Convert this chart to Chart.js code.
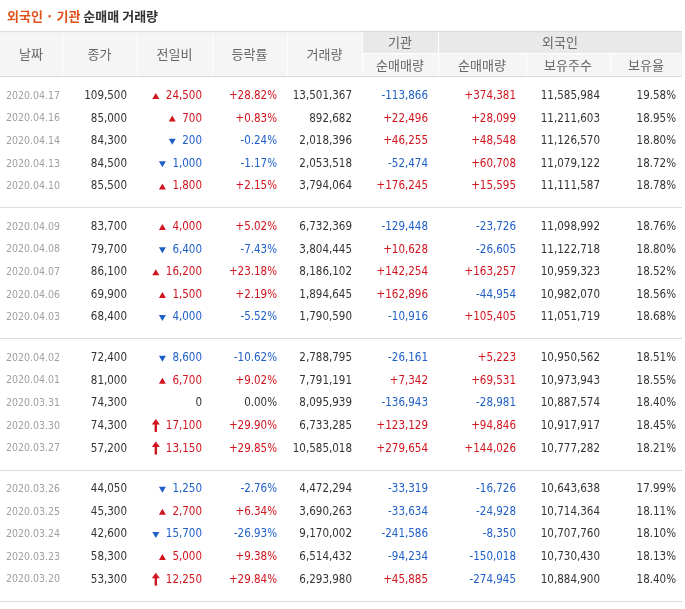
<!DOCTYPE html>
<html>
<head>
<meta charset="utf-8">
<script src="https://cdn.jsdelivr.net/npm/chart.js@4"></script>
<style>
  html, body { margin: 0; padding: 0; background: #fff; }
  #wrap { width: 685px; height: 609px; }
</style>
</head>
<body>
<div id="wrap"><canvas id="tbl"></canvas></div>
<script>
const dates = ['2020.04.17','2020.04.16','2020.04.14','2020.04.13','2020.04.10',
  '2020.04.09','2020.04.08','2020.04.07','2020.04.06','2020.04.03',
  '2020.04.02','2020.04.01','2020.03.31','2020.03.30','2020.03.27',
  '2020.03.26','2020.03.25','2020.03.24','2020.03.23','2020.03.20'];
const closes = [109500,85000,84300,84500,85500, 83700,79700,86100,69900,68400,
  72400,81000,74300,74300,57200, 44050,45300,42600,58300,53300];
const changeTypes = ['up','up','down','down','up', 'up','down','up','up','down',
  'down','up','none','limit','limit', 'down','up','down','up','limit'];
const changes = [24500,700,200,1000,1800, 4000,6400,16200,1500,4000,
  8600,6700,0,17100,13150, 1250,2700,15700,5000,12250];
const rates = [28.82,0.83,-0.24,-1.17,2.15, 5.02,-7.43,23.18,2.19,-5.52,
  -10.62,9.02,0.00,29.90,29.85, -2.76,6.34,-26.93,9.38,29.84];
const volumes = [13501367,892682,2018396,2053518,3794064, 6732369,3804445,8186102,1894645,1790590,
  2788795,7791191,8095939,6733285,10585018, 4472294,3690263,9170002,6514432,6293980];
const instNet = [-113866,22496,46255,-52474,176245, -129448,10628,142254,162896,-10916,
  -26161,7342,-136943,123129,279654, -33319,-33634,-241586,-94234,45885];
const foreignNet = [374381,28099,48548,60708,15595, -23726,-26605,163257,-44954,105405,
  5223,69531,-28981,94846,144026, -16726,-24928,-8350,-150018,-274945];
const holdings = [11585984,11211603,11126570,11079122,11111587, 11098992,11122718,10959323,10982070,11051719,
  10950562,10973943,10887574,10917917,10777282, 10643638,10714364,10707760,10730430,10884900];
const holdRatio = [19.58,18.95,18.80,18.72,18.78, 18.76,18.80,18.52,18.56,18.68,
  18.51,18.55,18.40,18.45,18.21, 17.99,18.11,18.10,18.13,18.40];
const headers = ['날짜','종가','전일비','등락률','거래량'];
const subHeaders = ['순매매량','순매매량','보유주수','보유율'];

// layout
const colEdges = [0,62,137,212,287,362,438,526,610,682];
const RED = '#d0141e', BLUE = '#1f5fc8', TXT = '#333', GRAY = '#a0a0a0';
const rowSlot = i => i + Math.floor(i / 5) * 0.8;
const fmt = n => Math.abs(n).toLocaleString('en-US');
const sgn = n => (n > 0 ? '+' : n < 0 ? '-' : '') + fmt(n);
const sColor = n => n > 0 ? RED : n < 0 ? BLUE : TXT;

const points = dates.map((d, i) => ({ x: colEdges[1], y: rowSlot(i) }));

const tablePlugin = {
  id: 'tablePlugin',
  afterDatasetsDraw(chart) {
    const c = chart.ctx, xs = chart.scales.x, ys = chart.scales.y;
    const X = v => xs.getPixelForValue(v), Y = v => ys.getPixelForValue(v);
    const kr = '"Noto Sans CJK KR", sans-serif';
    c.save();
    // title
    c.textBaseline = 'middle';
    c.font = 'bold 13px ' + kr;
    c.textAlign = 'left';
    c.fillStyle = '#e0501a';
    const t1 = '외국인 · 기관 ';
    c.fillText(t1, X(7), Y(-3.53));
    c.fillStyle = '#333';
    c.fillText('순매매 거래량', X(7) + c.measureText(t1).width, Y(-3.53));

    // header backgrounds
    const hTop = Y(-2.87), hMid = Y(-1.9), hBot = Y(-0.88);
    c.fillStyle = '#f5f5f5';
    c.fillRect(X(colEdges[0]), hTop, X(colEdges[9]) - X(colEdges[0]), hBot - hTop);
    c.fillStyle = '#e9e9e9';
    c.fillRect(X(colEdges[5]), hTop, X(colEdges[9]) - X(colEdges[5]), hMid - hTop);
    c.strokeStyle = '#fff';
    c.lineWidth = 1;
    c.beginPath();
    for (let k = 1; k < 9; k++) {
      const top = k <= 6 ? hTop : hMid;
      c.moveTo(X(colEdges[k]) + 0.5, top); c.lineTo(X(colEdges[k]) + 0.5, hBot);
    }
    c.moveTo(X(colEdges[5]), hMid + 0.5); c.lineTo(X(colEdges[9]), hMid + 0.5);
    c.stroke();
    c.strokeStyle = '#d8d8d8';
    c.beginPath();
    c.moveTo(X(colEdges[0]), hTop + 0.5); c.lineTo(X(colEdges[9]), hTop + 0.5);
    c.moveTo(X(colEdges[0]), hBot + 0.5); c.lineTo(X(colEdges[9]), hBot + 0.5);
    c.stroke();

    c.font = '13px ' + kr;
    c.fillStyle = '#666';
    c.textAlign = 'center';
    const mid = k => (X(colEdges[k]) + X(colEdges[k + 1])) / 2;
    headers.forEach((h, k) => c.fillText(h, mid(k), (hTop + hBot) / 2));
    c.fillText('기관', mid(5), (hTop + hMid) / 2);
    c.fillText('외국인', (X(colEdges[6]) + X(colEdges[9])) / 2, (hTop + hMid) / 2);
    subHeaders.forEach((h, k) => c.fillText(h, mid(k + 5), (hMid + hBot) / 2));

    // rows
    const num = '"DejaVu Sans Condensed", "Liberation Sans", sans-serif';
    const right = k => X(colEdges[k + 1]) - 10;
    dates.forEach((d, i) => {
      const y = Y(rowSlot(i));
      c.textAlign = 'left';
      c.font = '10.5px ' + num;
      c.fillStyle = GRAY;
      c.fillText(d, X(6), y);
      c.font = '11.5px ' + num;
      c.textAlign = 'right';
      c.fillStyle = TXT;
      c.fillText(fmt(closes[i]), right(1), y);
      const ty = changeTypes[i];
      const chColor = ty === 'down' ? BLUE : ty === 'none' ? TXT : RED;
      c.fillStyle = chColor;
      const chTxt = fmt(changes[i]);
      c.fillText(chTxt, right(2), y);
      const ax = right(2) - c.measureText(chTxt).width - 10;
      c.beginPath();
      if (ty === 'up') {
        c.moveTo(ax - 3.5, y + 3); c.lineTo(ax + 3.5, y + 3); c.lineTo(ax, y - 3);
        c.fill();
      } else if (ty === 'down') {
        c.moveTo(ax - 3.5, y - 2.5); c.lineTo(ax + 3.5, y - 2.5); c.lineTo(ax, y + 3.5);
        c.fill();
      } else if (ty === 'limit') {
        c.moveTo(ax - 4, y - 1.5); c.lineTo(ax + 4, y - 1.5); c.lineTo(ax, y - 7);
        c.fill();
        c.fillRect(ax - 1.2, y - 2, 2.4, 8);
      }
      c.fillStyle = sColor(rates[i]);
      c.fillText((rates[i] > 0 ? '+' : '') + rates[i].toFixed(2) + '%', right(3), y);
      c.fillStyle = TXT;
      c.fillText(fmt(volumes[i]), right(4), y);
      c.fillStyle = sColor(instNet[i]);
      c.fillText(sgn(instNet[i]), right(5), y);
      c.fillStyle = sColor(foreignNet[i]);
      c.fillText(sgn(foreignNet[i]), right(6), y);
      c.fillStyle = TXT;
      c.fillText(fmt(holdings[i]), right(7), y);
      c.fillText(holdRatio[i].toFixed(2) + '%', X(colEdges[9]) - 6, y);
    });

    // group separators
    c.strokeStyle = '#dcdcdc';
    c.beginPath();
    for (let g = 1; g <= 4; g++) {
      const yy = Math.round(Y(rowSlot(g * 5 - 1) + 0.93)) + 0.5;
      c.moveTo(X(colEdges[0]), yy); c.lineTo(X(colEdges[9]), yy);
    }
    c.stroke();
    c.restore();
  }
};

new Chart(document.getElementById('tbl'), {
  type: 'scatter',
  data: { datasets: [{ data: points, pointRadius: 0, pointHoverRadius: 0 }] },
  options: {
    responsive: true,
    maintainAspectRatio: false,
    animation: false,
    layout: { padding: 0 },
    plugins: { legend: { display: false }, tooltip: { enabled: false } },
    scales: {
      x: { type: 'linear', min: 0, max: 685, display: false },
      y: { type: 'linear', reverse: true, min: -96 / 22.6, max: (609 - 96) / 22.6, display: false }
    }
  },
  plugins: [tablePlugin]
});
</script>
</body>
</html>
